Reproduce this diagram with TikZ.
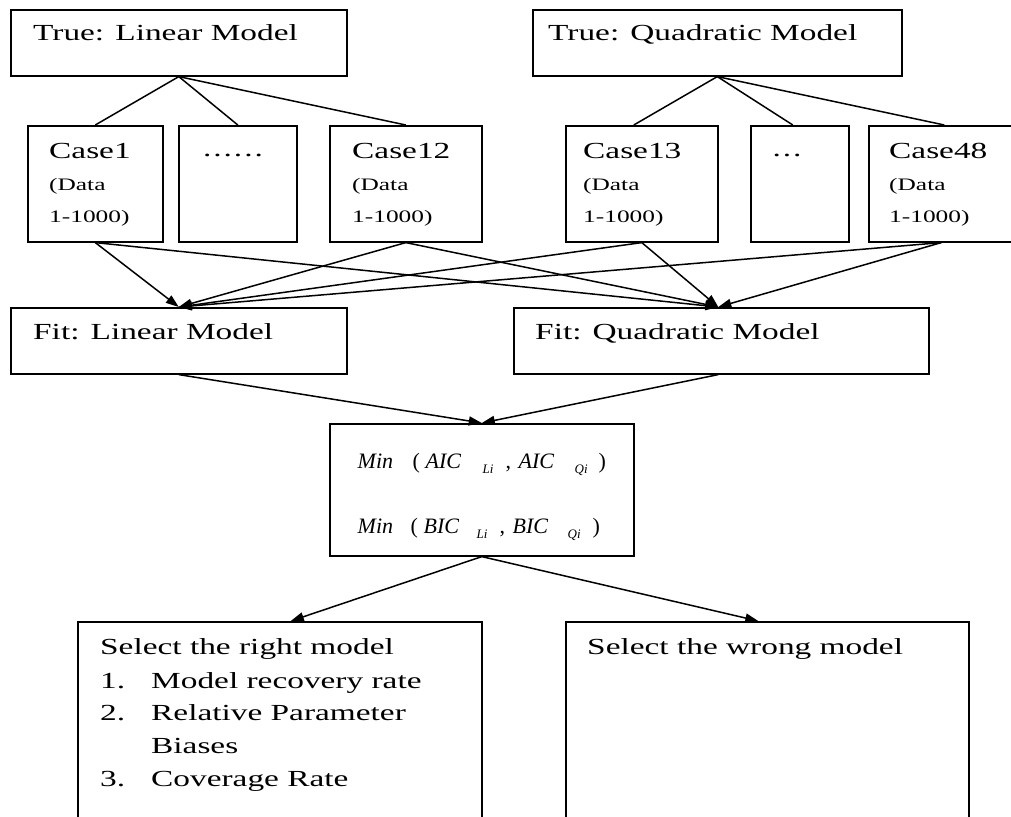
\documentclass[tikz,border=0pt]{standalone}
\usepackage{fontspec}
\setmainfont{Liberation Serif}
\newfontfamily\widefont[FakeStretch=1.45]{Liberation Serif}
\usetikzlibrary{arrows.meta,calc}
\newcommand\pc[2]{\rlap{\hskip#1pt\relax #2}}
\newcommand\sbx[1]{\raisebox{-5pt}{\fontsize{13}{13}\selectfont #1}}
\newcommand\up[1]{{\upshape #1}}
\tikzset{
  box/.style={draw,line width=1.6pt,rectangle,inner sep=0pt,anchor=north west},
  lbl/.style={anchor=base west,inner sep=0pt,font=\widefont\fontsize{23}{23}\selectfont},
  sml/.style={anchor=base west,inner sep=0pt,font=\widefont\fontsize{17.5}{17.5}\selectfont},
  eqn/.style={anchor=base west,inner sep=0pt,font=\itshape\fontsize{22}{22}\selectfont},
  conn/.style={line width=1.5pt},
  arr/.style={line width=1.5pt,-{Triangle[length=13pt,width=9pt]}},
}
\begin{document}
\begin{tikzpicture}[x=1pt,y=-1pt]
\useasboundingbox (0,0) rectangle (1011,816);
% boxes
\node[box,minimum width=336pt,minimum height=66pt] (tl) at (10,9) {};
\node[box,minimum width=369pt,minimum height=66pt] (tq) at (532,9) {};
\node[box,minimum width=135pt,minimum height=116pt] (c1) at (27,125) {};
\node[box,minimum width=118pt,minimum height=116pt] (d1) at (178,125) {};
\node[box,minimum width=152pt,minimum height=116pt] (c12) at (329,125) {};
\node[box,minimum width=152pt,minimum height=116pt] (c13) at (565,125) {};
\node[box,minimum width=98pt,minimum height=116pt] (d2) at (750,125) {};
\node[box,minimum width=145pt,minimum height=116pt] (c48) at (868,125) {};
\node[box,minimum width=336pt,minimum height=66pt] (fl) at (10,307) {};
\node[box,minimum width=415pt,minimum height=66pt] (fq) at (513,307) {};
\node[box,minimum width=304pt,minimum height=132pt] (mn) at (329,423) {};
\node[box,minimum width=404pt,minimum height=250pt] (rb) at (77,621) {};
\node[box,minimum width=403pt,minimum height=250pt] (wb) at (565,621) {};
% texts
\node[lbl] (ttl) at (33,41) {True: Linear Model};
\node[lbl] (ttq) at (548,41) {True: Quadratic Model};
\node[lbl] (tc1) at (49,158) {Case1};
\node[sml] (tc1a) at (49,190) {(Data};
\node[sml] (tc1b) at (49,222) {1-1000)};
\node[lbl,anchor=base] (td1) at (233,156) {\hbox to 60pt{.\hfil.\hfil.\hfil.\hfil.\hfil.}};
\node[lbl] (tc12) at (352,158) {Case12};
\node[sml] (tc12a) at (352,190) {(Data};
\node[sml] (tc12b) at (352,222) {1-1000)};
\node[lbl] (tc13) at (583,158) {Case13};
\node[sml] (tc13a) at (583,190) {(Data};
\node[sml] (tc13b) at (583,222) {1-1000)};
\node[lbl,anchor=base] (td2) at (787,156) {\hbox to 29pt{.\hfil.\hfil.}};
\node[lbl] (tc48) at (889,158) {Case48};
\node[sml] (tc48a) at (889,190) {(Data};
\node[sml] (tc48b) at (889,222) {1-1000)};
\node[lbl] (tfl) at (33,339) {Fit: Linear Model};
\node[lbl] (tfq) at (535,339) {Fit: Quadratic Model};
\node[eqn] (m1) at (357,468) {\pc{0}{Min}\pc{55}{\up{(}}\pc{68}{AIC}\pc{125}{\sbx{Li}}\pc{148}{\up{,}}\pc{161}{AIC}\pc{217}{\sbx{Qi}}\pc{241}{\up{)}}\hskip250pt};
\node[eqn] (m2) at (357,533) {\pc{0}{Min}\pc{53}{\up{(}}\pc{66}{BIC}\pc{119}{\sbx{Li}}\pc{142}{\up{,}}\pc{155}{BIC}\pc{210}{\sbx{Qi}}\pc{235}{\up{)}}\hskip245pt};
\node[lbl] (tr0) at (100,654) {Select the right model};
\node[lbl] (tr1n) at (100,688) {1.};
\node[lbl] (tr1) at (151,688) {Model recovery rate};
\node[lbl] (tr2n) at (100,720) {2.};
\node[lbl] (tr2) at (151,720) {Relative Parameter};
\node[lbl] (tr2b) at (151,753) {Biases};
\node[lbl] (tr3n) at (100,786) {3.};
\node[lbl] (tr3) at (151,786) {Coverage Rate};
\node[lbl] (tw0) at (587,654) {Select the wrong model};
% connectors
\draw[conn] (tl.south) -- (c1.north);
\draw[conn] (tl.south) -- (d1.north);
\draw[conn] (tl.south) -- (c12.north);
\draw[conn] (tq.south) -- ($(c13.north)+(-8,0)$);
\draw[conn] (tq.south) -- ($(d2.north)+(-7,0)$);
\draw[conn] (tq.south) -- ($(c48.north)+(3,0)$);
\foreach \s in {c1,c12,c13,c48}{
  \draw[arr] (\s.south) -- (fl.north);
  \draw[arr] (\s.south) -- ($(fq.north)+(-3,0)$);
}
\draw[arr] (fl.south) -- (mn.north);
\draw[arr] ($(fq.south)+(-3,0)$) -- (mn.north);
\draw[arr] (mn.south) -- ($(rb.north)+(11,0)$);
\draw[arr] (mn.south) -- ($(wb.north)+(-9,0)$);
\end{tikzpicture}
\end{document}
